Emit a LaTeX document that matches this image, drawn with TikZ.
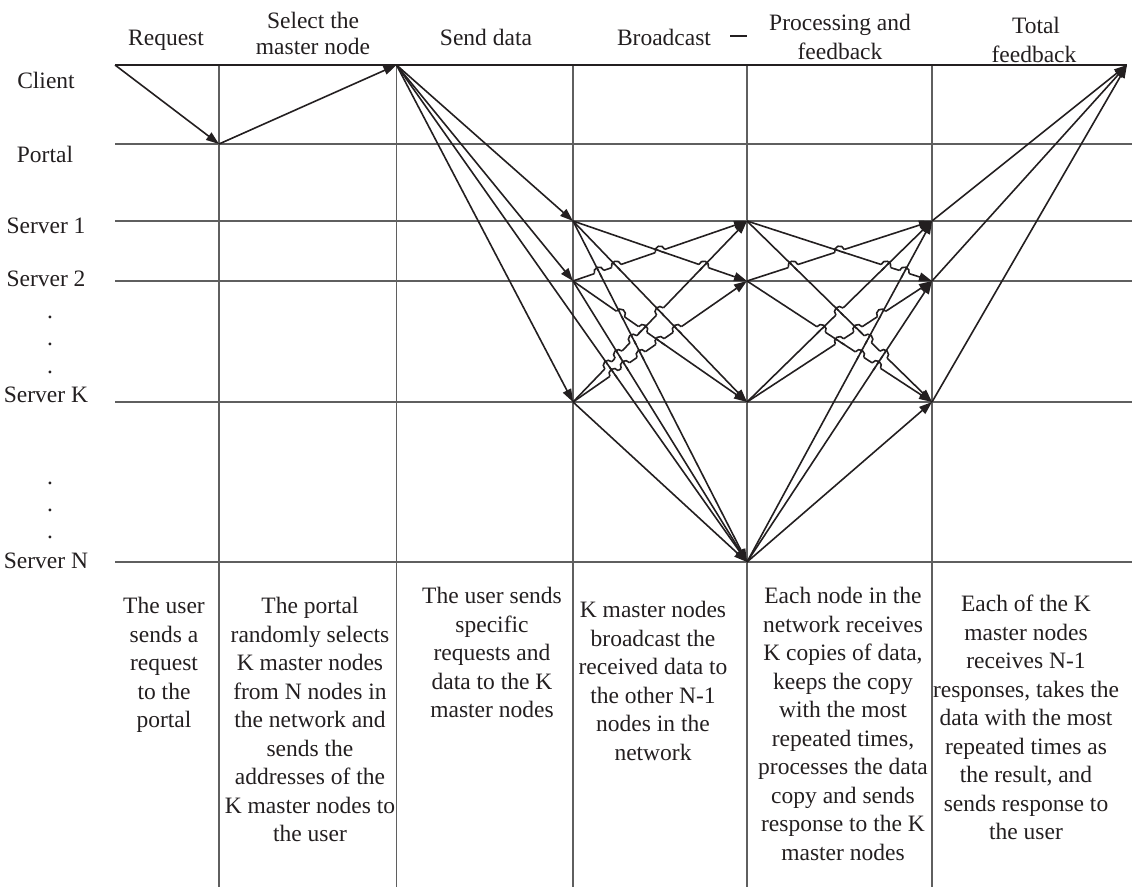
\documentclass[tikz,border=0pt]{standalone}
\usepackage{fontspec}
\setmainfont{Liberation Serif}
\usetikzlibrary{arrows.meta}
\definecolor{ink}{RGB}{35,31,32}
\definecolor{rule}{RGB}{95,95,95}

\tikzset{
  gridline/.style={draw=rule, line width=1.3pt},
  flow/.style={draw=ink, line width=1.6pt, -{Triangle[length=13pt,width=9pt]}},
  plain/.style={draw=ink, line width=1.6pt},
  eraser/.style={draw=white, line width=3.2pt},
  txt/.style={inner sep=0pt, font=\fontsize{23.5}{28.5}\selectfont, text=ink},
  head/.style={txt, anchor=base},
  note/.style={txt, anchor=north, align=center},
}

% Collect the crossings of a bundle of straight connectors.
% #1 count, #2/#3 start x/y arrays, #4/#5 end x/y arrays (y grows downward).
% The flatter connector of each crossing gets a line jump.
\gdef\hoplist{}
\gdef\hsSep{}
\newcommand\hopscan[5]{%
  \pgfmathtruncatemacro\hsLast{#1-1}%
  \foreach \i in {0,...,\hsLast}{%
    \foreach \j in {0,...,\hsLast}{%
      \ifnum\j>\i\relax
        \pgfmathsetmacro\hsXa{#2[\i]/100}%
        \pgfmathsetmacro\hsYa{#3[\i]/100}%
        \pgfmathsetmacro\hsXb{#4[\i]/100}%
        \pgfmathsetmacro\hsYb{#5[\i]/100}%
        \pgfmathsetmacro\hsXc{#2[\j]/100}%
        \pgfmathsetmacro\hsYc{#3[\j]/100}%
        \pgfmathsetmacro\hsXd{#4[\j]/100}%
        \pgfmathsetmacro\hsYd{#5[\j]/100}%
        \pgfmathsetmacro\hsD{(\hsXb-\hsXa)*(\hsYd-\hsYc)-(\hsYb-\hsYa)*(\hsXd-\hsXc)}%
        \pgfmathtruncatemacro\hsOk{abs(\hsD)>0.0001}%
        \ifnum\hsOk=1
          \pgfmathsetmacro\hsT{((\hsXc-\hsXa)*(\hsYd-\hsYc)-(\hsYc-\hsYa)*(\hsXd-\hsXc))/\hsD}%
          \pgfmathsetmacro\hsU{((\hsXc-\hsXa)*(\hsYb-\hsYa)-(\hsYc-\hsYa)*(\hsXb-\hsXa))/\hsD}%
          \pgfmathtruncatemacro\hsIn{and(and(\hsT>0.04,\hsT<0.96),and(\hsU>0.04,\hsU<0.96))}%
          \ifnum\hsIn=1
            \pgfmathsetmacro\hsX{100*(\hsXa+\hsT*(\hsXb-\hsXa))}%
            \pgfmathsetmacro\hsY{100*(\hsYa+\hsT*(\hsYb-\hsYa))}%
            \pgfmathsetmacro\hsAp{atan2(\hsYa-\hsYb,\hsXb-\hsXa)}%
            \pgfmathsetmacro\hsAq{atan2(\hsYc-\hsYd,\hsXd-\hsXc)}%
            \pgfmathsetmacro\hsSp{abs((\hsYb-\hsYa)/(\hsXb-\hsXa))}%
            \pgfmathsetmacro\hsSq{abs((\hsYd-\hsYc)/(\hsXd-\hsXc))}%
            \pgfmathtruncatemacro\hsPj{or(\hsSp<\hsSq-0.001,and(abs(\hsSp-\hsSq)<0.0011,\hsYb<\hsYa))}%
            \ifnum\hsPj=1
              \xdef\hoplist{\hoplist\hsSep\hsX/\hsY/\hsAp/\hsAq}%
            \else
              \xdef\hoplist{\hoplist\hsSep\hsX/\hsY/\hsAq/\hsAp}%
            \fi
            \gdef\hsSep{,}%
          \fi
        \fi
      \fi
    }%
  }%
}

\begin{document}
\begin{tikzpicture}[x=1pt,y=1pt]
\useasboundingbox (0,0) rectangle (1132,-887);

% ---- anchor points on the time lines ----
\coordinate (c0) at (115,-65);
\coordinate (c1) at (1127,-65);
\coordinate (p1) at (219,-144);
\coordinate (m0) at (396.5,-65);
\coordinate (a1) at (573,-221);
\coordinate (a2) at (573,-281);
\coordinate (ak) at (573,-402);
\coordinate (b1) at (747,-221);
\coordinate (b2) at (747,-281);
\coordinate (bk) at (747,-402);
\coordinate (bn) at (747,-562);
\coordinate (f1) at (932,-221);
\coordinate (f2) at (932,-281);
\coordinate (fk) at (932,-402);

% ---- grid ----
\foreach \y in {144,221,281,402,562}
  \draw[gridline] (115,-\y) -- (1132,-\y);
\foreach \x in {219,396.5,573,747,932}
  \draw[gridline] (\x,-65) -- (\x,-887);
\draw[plain] (c0) -- (c1);

% ---- headings ----
\node[head] (hReq)  at (166,-45) {Request};
\node[head] (hSel1) at (313,-28) {Select the};
\node[head] (hSel2) at (313,-54) {master node};
\node[head] (hSend) at (486,-45) {Send data};
\node[head] (hBro)  at (664,-45) {Broadcast};
\draw[plain] (730,-36) -- (747,-36);
\node[head] (hPro1) at (840,-30) {Processing and};
\node[head] (hPro2) at (840,-59) {feedback};
\node[head] (hTot1) at (1036,-33) {Total};
\node[head] (hTot2) at (1034,-62) {feedback};

% ---- row labels ----
\node[head] (lCl) at (46,-88)  {Client};
\node[head] (lPo) at (45,-162) {Portal};
\node[head] (lS1) at (46,-233) {Server 1};
\node[head] (lS2) at (46,-286) {Server 2};
\node[head] (lSK) at (46,-402) {Server K};
\node[head] (lSN) at (46,-568) {Server N};
\foreach \y [count=\k] in {318.5,345.5,373.5,484.5,511.5,538.5}
  \node[head] (dot\k) at (50,-\y) {.};

% ---- messages ----
\draw[flow] (c0) -- (p1);
\draw[flow] (p1) -- (m0);
\foreach \t in {a1,a2,ak,bn}
  \draw[flow] (m0) -- (\t);
\foreach \s/\t in {a1/b2,a1/bk,a1/bn,a2/b1,a2/bk,a2/bn,ak/b1,ak/b2,ak/bn}
  \draw[flow] (\s) -- (\t);
\foreach \s/\t in {b1/f2,b1/fk,b2/f1,b2/fk,bk/f1,bk/f2,bn/f1,bn/f2,bn/fk}
  \draw[flow] (\s) -- (\t);
\foreach \s in {f1,f2,fk}
  \draw[flow] (\s) -- (c1);

% ---- line jumps where messages cross ----
\def\BSx{{573,573,573,573,573,573,573,573,573,396.5}}
\def\BSy{{221,221,221,281,281,281,402,402,402,65}}
\def\BEx{{747,747,747,747,747,747,747,747,747,747}}
\def\BEy{{281,402,562,221,402,562,221,281,562,562}}
\hopscan{10}{\BSx}{\BSy}{\BEx}{\BEy}
\def\FSx{{747,747,747,747,747,747,747,747,747}}
\def\FSy{{221,221,281,281,402,402,562,562,562}}
\def\FEx{{932,932,932,932,932,932,932,932,932}}
\def\FEy{{281,402,221,402,221,281,221,281,402}}
\hopscan{9}{\FSx}{\FSy}{\FEx}{\FEy}

\foreach \hx/\hy/\ha/\hb in \hoplist
  \draw[eraser] ([shift={(\ha+180:5)}]\hx,-\hy) -- ([shift={(\ha:5)}]\hx,-\hy);
\foreach \hx/\hy/\ha/\hb in \hoplist
  \draw[plain] ([shift={(\hb+180:6)}]\hx,-\hy) -- ([shift={(\hb:6)}]\hx,-\hy);
\foreach \hx/\hy/\ha/\hb in \hoplist
  \draw[plain] ([shift={(\ha+180:5)}]\hx,-\hy) arc[start angle=\ha+180, end angle=\ha, radius=5];

% ---- step descriptions ----
\node[note] (n1) at (164,-597) {The user\\sends a\\request\\to the\\portal};
\node[note] (n2) at (310,-597) {The portal\\randomly selects\\K master nodes\\from N nodes in\\the network and\\sends the\\addresses of the\\K master nodes to\\the user};
\node[note] (n3) at (492,-587) {The user sends\\specific\\requests and\\data to the K\\master nodes};
\node[note] (n4) at (653,-601) {K master nodes\\broadcast the\\received data to\\the other N-1\\nodes in the\\network};
\node[note] (n5) at (843,-587) {Each node in the\\network receives\\K copies of data,\\keeps the copy\\with the most\\repeated times,\\processes the data\\copy and sends\\response to the K\\master nodes};
\node[note] (n6) at (1026,-595) {Each of the K\\master nodes\\receives N-1\\responses, takes the\\data with the most\\repeated times as\\the result, and\\sends response to\\the user};
\end{tikzpicture}
\end{document}
